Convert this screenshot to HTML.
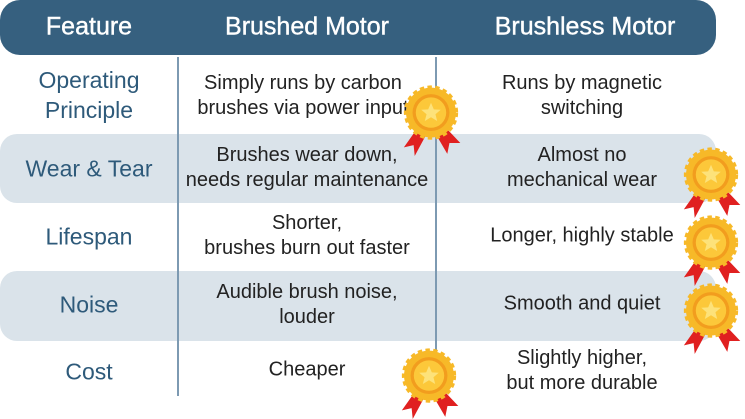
<!DOCTYPE html>
<html><head><meta charset="utf-8"><style>
body{margin:0;width:745px;height:409px;background:#fff;overflow:hidden;font-family:"Liberation Sans",sans-serif;position:relative}
.hd{position:absolute;left:0;top:0;width:716px;height:55px;background:#36607f;border-radius:20px}
.g{position:absolute;left:0;width:716px;background:#dae3ea;border-radius:17px}
.t{position:absolute;transform:translate(-50%,-50%);text-align:center;white-space:nowrap;line-height:25px}
.h{color:#fff;font-size:25px;-webkit-text-stroke:0.4px #fff}
.l{color:#2e5a7a;font-size:23px}
.c{color:#222;font-size:20px}
.v{position:absolute;width:2px;background:#7d9ab2;top:57px;height:339px}
svg.m{position:absolute;width:76px;height:76px}
</style></head><body>
<div class="hd"></div>
<div class="g" style="top:134px;height:69px"></div>
<div class="g" style="top:271px;height:70px"></div>
<div class="v" style="left:177px"></div>
<div class="v" style="left:435px"></div>
<div class="t h" style="left:89px;top:27px">Feature</div>
<div class="t h" style="left:307px;top:27px">Brushed Motor</div>
<div class="t h" style="left:585px;top:27px">Brushless Motor</div>

<div class="t l" style="left:89px;top:95px;line-height:30px">Operating<br>Principle</div>
<div class="t l" style="left:89px;top:169px">Wear &amp; Tear</div>
<div class="t l" style="left:89px;top:237px">Lifespan</div>
<div class="t l" style="left:89px;top:305px">Noise</div>
<div class="t l" style="left:89px;top:372px">Cost</div>

<div class="t c" style="left:303px;top:96px">Simply runs by carbon<br>brushes via power input</div>
<div class="t c" style="left:307px;top:168px">Brushes wear down,<br>needs regular maintenance</div>
<div class="t c" style="left:307px;top:236px">Shorter,<br>brushes burn out faster</div>
<div class="t c" style="left:307px;top:305px">Audible brush noise,<br>louder</div>
<div class="t c" style="left:307px;top:370px">Cheaper</div>

<div class="t c" style="left:582px;top:96px">Runs by magnetic<br>switching</div>
<div class="t c" style="left:582px;top:168px">Almost no<br>mechanical wear</div>
<div class="t c" style="left:582px;top:236px">Longer, highly stable</div>
<div class="t c" style="left:582px;top:304px">Smooth and quiet</div>
<div class="t c" style="left:582px;top:371px">Slightly higher,<br>but more durable</div>

<svg width="0" height="0" style="position:absolute"><defs>
<g id="md">
<path d="M27 38 L10 62 L19 60 L20 70 L34 44Z M43 38 L62 58 L52 58 L50 68 L36 44Z" fill="#e02020"/>
<circle cx="35" cy="30" r="23" fill="#f7b928" stroke="#f7b928" stroke-width="4" stroke-dasharray="4 3"/>
<circle cx="35" cy="30" r="17" fill="#f29d1e"/>
<circle cx="35" cy="30" r="14" fill="#fcc83a"/>
<path d="M35 21 l2.6 6 6.4.4-4.9 4.1 1.6 6.3-5.7-3.5-5.7 3.5 1.6-6.3-4.9-4.1 6.4-.4z" fill="#fde27a"/>
</g></defs></svg>
<svg class="m" style="left:393px;top:80px" viewBox="0 0 70 70"><use href="#md"/></svg>
<svg class="m" style="left:673px;top:142px" viewBox="0 0 70 70"><use href="#md"/></svg>
<svg class="m" style="left:673px;top:210px" viewBox="0 0 70 70"><use href="#md"/></svg>
<svg class="m" style="left:673px;top:278px" viewBox="0 0 70 70"><use href="#md"/></svg>
<svg class="m" style="left:391px;top:343px" viewBox="0 0 70 70"><use href="#md"/></svg>
</body></html>
